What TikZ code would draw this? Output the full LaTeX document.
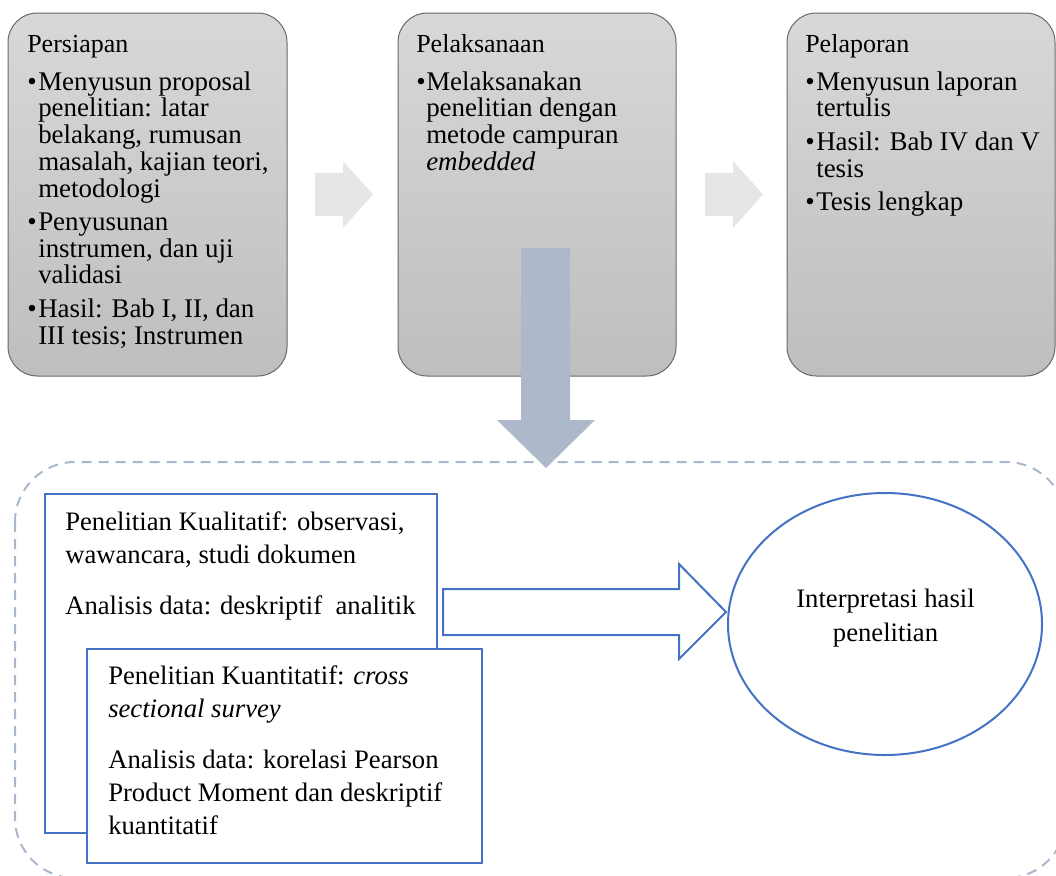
\documentclass[tikz,border=0pt]{standalone}
\usepackage{fontspec}
\setmainfont{Liberation Serif}
\usetikzlibrary{fit,shapes.geometric}
\definecolor{boxtop}{RGB}{216,216,216}
\definecolor{boxbot}{RGB}{190,190,190}
\definecolor{boxline}{RGB}{105,105,105}
\definecolor{arrgray}{RGB}{230,230,230}
\definecolor{arrblue}{RGB}{173,185,202}
\definecolor{dashblue}{RGB}{169,183,204}
\definecolor{mblue}{RGB}{68,114,196}
\newcommand{\hd}[1]{{\fontsize{19.5}{20}\selectfont #1}}
\begin{document}
\begin{tikzpicture}[x=0.75pt,y=-0.75pt,
  stage/.style={draw=boxline, line width=0.75pt, rounded corners=22pt, top color=boxtop, bottom color=boxbot, inner sep=0pt},
  toptext/.style={anchor=north west, inner sep=0pt, font=\fontsize{20.2}{20}\selectfont},
  bottext/.style={anchor=north west, inner sep=0pt, font=\fontsize{20}{24.75}\selectfont},
  bluebox/.style={draw=mblue, line width=1.5pt, fill=white, inner sep=0pt},
  grayarrow/.style={fill=arrgray},
  downarrow/.style={fill=arrblue},
  blockarrow/.style={draw=mblue, line width=1.5pt, fill=white, line join=miter},
  group/.style={draw=dashblue, line width=1.5pt, dash pattern=on 7.5pt off 5.25pt, rounded corners=45pt}
]
\useasboundingbox (0,0) rectangle (1056,875);
\clip (0,0) rectangle (1056,875);

% dashed group
\draw[group] (15,462) rectangle (1066,878);

% top stage boxes
\node[stage, fit={(8,13) (287,376)}] (prep) {};
\node[stage, fit={(398,13) (676,376)}] (exec) {};
\node[stage, fit={(787,13) (1055,376)}] (rep) {};

% gray arrows
\fill[grayarrow] (315,173) -- (343,173) -- (343,161) -- (373,194.5) -- (343,228) -- (343,216) -- (315,216) -- cycle;
\fill[grayarrow] (705,173) -- (733,173) -- (733,161) -- (763,194.5) -- (733,228) -- (733,216) -- (705,216) -- cycle;

% stage texts
\node[toptext] (t1) at (27,33.3) {\begin{tabular}{@{}p{8.25pt}@{}l@{}}
\multicolumn{2}{@{}l@{}}{\hd{Persiapan}}\\[8.5pt]
\textbullet & Menyusun proposal\\
& penelitian: latar\\
& belakang, rumusan\\
& masalah, kajian teori,\\
& metodologi\\[5.1pt]
\textbullet & Penyusunan\\
& instrumen, dan uji\\
& validasi\\[5.1pt]
\textbullet & Hasil: Bab I, II, dan\\
& III tesis; Instrumen
\end{tabular}};

\node[toptext] (t2) at (416,33.3) {\begin{tabular}{@{}p{7.5pt}@{}l@{}}
\multicolumn{2}{@{}l@{}}{\hd{Pelaksanaan}}\\[8.5pt]
\textbullet & Melaksanakan\\
& penelitian dengan\\
& metode campuran\\
& \textit{embedded}
\end{tabular}};

\node[toptext] (t3) at (805,33.3) {\begin{tabular}{@{}p{8.25pt}@{}l@{}}
\multicolumn{2}{@{}l@{}}{\hd{Pelaporan}}\\[8.5pt]
\textbullet & Menyusun laporan\\
& tertulis\\[5.1pt]
\textbullet & Hasil: Bab IV dan V\\
& tesis\\[5.1pt]
\textbullet & Tesis lengkap
\end{tabular}};

% big down arrow
\fill[downarrow] (521,248) -- (570,248) -- (570,420) -- (595,420) -- (546,468) -- (497,420) -- (521,420) -- cycle;

% qualitative box
\node[bluebox, fit={(45,494) (437,833)}] (kual) {};
% block arrow to ellipse
\draw[blockarrow] (443,589) -- (679,589) -- (679,564) -- (726,612) -- (679,659) -- (679,635) -- (443,635) -- cycle;
% quantitative box
\node[bluebox, fit={(87,649) (482,863)}] (kuan) {};
% ellipse
\node[ellipse, draw=mblue, line width=1.5pt, fill=white, inner sep=0pt, minimum width=235.5pt, minimum height=196.5pt] (interp) at (885,624) {};

\node[bottext] (tk1) at (65,506.9) {\begin{tabular}{@{}l@{}}
Penelitian Kualitatif: observasi,\\
wawancara, studi dokumen\\[13.5pt]
Analisis data: deskriptif\ \ analitik
\end{tabular}};

\node[bottext] (tk2) at (108,660.9) {\begin{tabular}{@{}l@{}}
Penelitian Kuantitatif: \textit{cross}\\
\textit{sectional survey}\\[13.5pt]
Analisis data: korelasi Pearson\\
Product Moment dan deskriptif\\
kuantitatif
\end{tabular}};

\node[anchor=north, inner sep=0pt, font=\fontsize{20}{25.5}\selectfont] (ti) at (885.5,583.2) {\begin{tabular}{@{}c@{}}
Interpretasi hasil\\
penelitian
\end{tabular}};
\end{tikzpicture}
\end{document}
